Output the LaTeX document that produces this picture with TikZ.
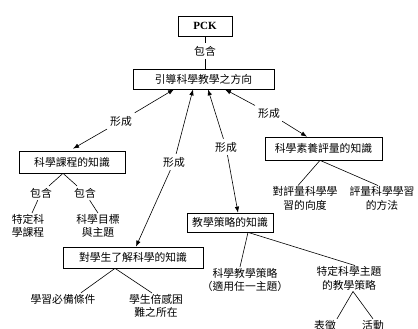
\documentclass[tikz,border=0pt]{standalone}
\usepackage{fontspec}
\setmainfont{Liberation Serif}
\newfontfamily\cjk{Noto Sans CJK TC}
\usetikzlibrary{arrows.meta}
\begin{document}
\begin{tikzpicture}[x=1pt,y=-1pt,
  box/.style={draw, line width=0.7pt, inner sep=0pt, font=\cjk\fontsize{10.8}{13}\selectfont},
  txt/.style={inner sep=1pt, align=center, font=\cjk\fontsize{10.8}{13.5}\selectfont},
  lab/.style={inner sep=3pt, font=\cjk\fontsize{10.8}{13}\selectfont},
  ln/.style={line width=0.6pt},
  arr/.style={line width=0.6pt, -{Latex[length=6pt,width=4.5pt]}}]
\useasboundingbox (0,0) rectangle (418,329);
% main boxes
\node[box, minimum width=54pt, minimum height=20pt, font=\bfseries\fontsize{11}{13}\selectfont] (pck) at (205,26) {PCK};
\node[box, minimum width=141pt, minimum height=20pt] (dir) at (203.5,79) {引導科學教學之方向};
\node[box, minimum width=106pt, minimum height=22pt] (curr) at (72,162) {科學課程的知識};
\node[box, minimum width=140pt, minimum height=21pt] (stud) at (133,257.5) {對學生了解科學的知識};
\node[box, minimum width=86pt, minimum height=19pt] (strat) at (230,222.5) {教學策略的知識};
\node[box, minimum width=117pt, minimum height=23pt] (assess) at (323.5,148.5) {科學素養評量的知識};
% PCK - direction
\node[lab] (inc) at (205,51) {包含};
\draw[ln] (pck.south) -- (inc);
\draw[ln] (inc) -- (inc |- dir.north);
% forming arrows
\node[lab] (f1) at (121,121) {形成};
\node[lab] (f2) at (174,162) {形成};
\node[lab] (f3) at (226,147) {形成};
\node[lab] (f4) at (269,113) {形成};
\draw[arr] (f1) -- ([xshift=-29.5pt]dir.south);
\draw[arr] (f1) -- ([xshift=1pt,yshift=2pt]curr.north);
\draw[arr] (f2) -- ([xshift=-10.5pt]dir.south);
\draw[arr] (f2) -- ([xshift=3pt]stud.north);
\draw[arr] (f3) -- ([xshift=4.5pt]dir.south);
\draw[arr] (f3) -- ([xshift=8pt]strat.north);
\draw[arr] (f4) -- ([xshift=21.5pt]dir.south);
\draw[arr] (f4) -- ([xshift=-16.5pt]assess.north);
% curriculum leaves
\node[lab, inner sep=2pt] (c1) at (41,193) {包含};
\node[lab, inner sep=2pt] (c2) at (85,193) {包含};
\node[txt] (cl1) at (28,226) {特定科\\學課程};
\node[txt] (cl2) at (98,226) {科學目標\\與主題};
\draw[ln] ([xshift=-9pt]curr.south) -- (c1) -- ([xshift=4pt]cl1.north);
\draw[ln] ([xshift=-9pt]curr.south) -- (c2) -- (cl2.north);
% student leaves
\node[txt] (sA) at (63,299) {學習必備條件};
\node[txt] (sB) at (156,306) {學生倍感困\\難之所在};
\draw[ln] ([xshift=-18pt]stud.south) -- ([xshift=18pt]sA.north);
\draw[ln] ([xshift=-18pt]stud.south) -- ([xshift=-4pt]sB.north);
% strategy leaves
\node[txt] (tA) at (245,280) {科學教學策略\\（適用任一主題）};
\node[txt] (tB) at (349,278.5) {特定科學主題\\的教學策略};
\draw[ln] ([xshift=18pt]strat.south) -- ([xshift=-5pt]tA.north);
\draw[ln] ([xshift=18pt]strat.south) -- ([xshift=6pt]tB.north);
\node[txt] (rA) at (325,325) {表徵};
\node[txt] (rB) at (373,325) {活動};
\draw[ln] ([xshift=4pt]tB.south) -- ([xshift=12pt]rA.north);
\draw[ln] ([xshift=4pt]tB.south) -- (rB.north);
% assessment leaves
\node[txt] (aA) at (305,198.5) {對評量科學學\\習的向度};
\node[txt] (aB) at (382,198.5) {評量科學學習\\的方法};
\draw[ln] ([xshift=-3.5pt]assess.south) -- ([xshift=-7pt]aA.north);
\draw[ln] ([xshift=-3.5pt]assess.south) -- ([xshift=-4pt]aB.north);
\end{tikzpicture}
\end{document}
